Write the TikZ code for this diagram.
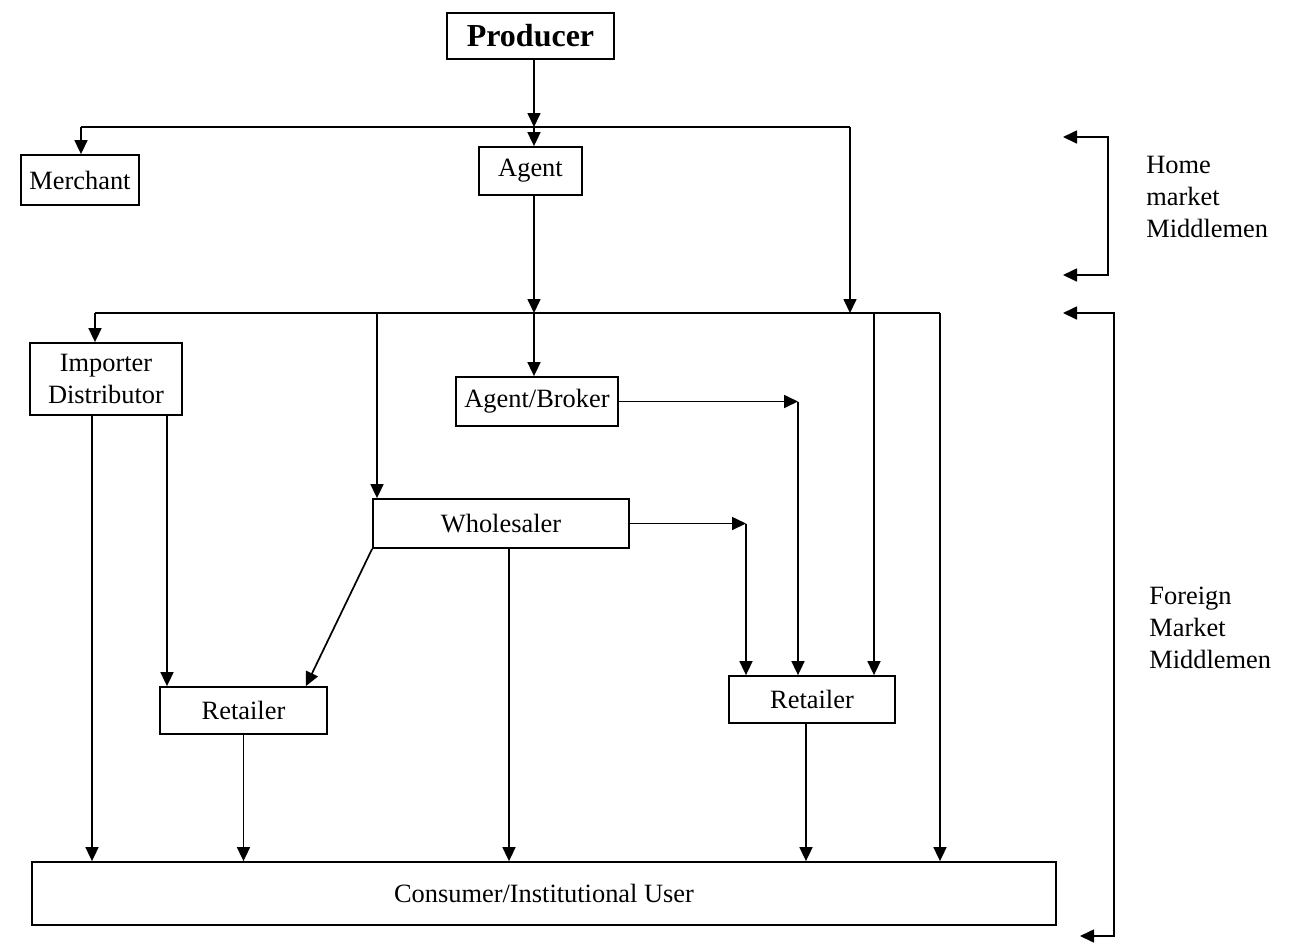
\documentclass[tikz,border=0pt]{standalone}
\usepackage{fontspec}
\setmainfont{Liberation Serif}
\usetikzlibrary{arrows.meta}
\begin{document}
\begin{tikzpicture}[x=0.5pt,y=-0.5pt,
  font=\fontsize{13.2pt}{16pt}\selectfont,
  box/.style={draw,line width=0.9pt,inner sep=0pt,align=center},
  arr/.style={line width=0.85pt,-{Triangle[length=7pt,width=6.5pt]}},
  ln/.style={line width=0.85pt},
  brk/.style={line width=0.85pt,{Triangle[length=7pt,width=6.5pt]}-{Triangle[length=7pt,width=6.5pt]}},
  lbl/.style={align=left,anchor=north west,inner sep=0pt}]
\useasboundingbox (0,0) rectangle (1303,944);
\fill[white] (0,0) rectangle (1303,944);

% boxes
\node[box,minimum width=83.5pt,minimum height=23pt,font=\fontsize{16pt}{18pt}\selectfont\bfseries] (prod) at (530.5,36) {Producer};
\node[box,minimum width=59pt,minimum height=25pt] (merch) at (80,180) {Merchant};
\node[box,minimum width=51.5pt,minimum height=24pt] (agent) at (530.5,171) {Agent};
\node[box,minimum width=76pt,minimum height=36pt] (imp) at (106,379) {Importer\\Distributor};
\node[box,minimum width=81pt,minimum height=24.5pt] (ab) at (537,401.5) {Agent/Broker};
\node[box,minimum width=128pt,minimum height=24.5pt] (whole) at (501,523.5) {Wholesaler};
\node[box,minimum width=83.5pt,minimum height=23.5pt] (ret1) at (243.5,710.5) {Retailer};
\node[box,minimum width=83pt,minimum height=23.5pt] (ret2) at (812,699.5) {Retailer};
\node[box,minimum width=512pt,minimum height=31.5pt] (cons) at (544,893.5) {Consumer/Institutional User};

% junction points
\coordinate (t1) at (81,127);
\coordinate (t2) at (534,127);
\coordinate (t3) at (850,127);
\coordinate (s1) at (95,313);
\coordinate (sw) at (377,313);
\coordinate (s2) at (534,313);
\coordinate (s3) at (850,313);
\coordinate (s4) at (874,313);
\coordinate (s5) at (940,313);
\coordinate (c1) at (798,401.5);
\coordinate (c2) at (746,523.5);

% home market level
\draw[arr] (prod.south -| t2) -- (t2);
\draw[ln] (t1) -- (t3);
\draw[arr] (t1) -- (t1 |- merch.north);
\draw[arr] (t2) -- (agent.north -| t2);
\draw[arr] (t3) -- (s3);
\draw[arr] (agent.south -| t2) -- (s2);

% foreign market level
\draw[ln] (s1) -- (s5);
\draw[arr] (s1) -- (s1 |- imp.north);
\draw[arr] (sw) -- (sw |- whole.north);
\draw[arr] (s2) -- (s2 |- ab.north);
\draw[arr] (s4) -- (s4 |- ret2.north);
\draw[arr] (s5) -- (s5 |- cons.north);

\draw[arr] (ab.east) -- (c1);
\draw[arr] (c1) -- (c1 |- ret2.north);
\draw[arr] (whole.east) -- (c2);
\draw[arr] (c2) -- (c2 |- ret2.north);

\draw[arr] ([xshift=-7pt]imp.south) -- ([xshift=-7pt]imp.south |- cons.north);
\draw[arr] ([xshift=30.5pt]imp.south) -- ([xshift=30.5pt]imp.south |- ret1.north);
\draw[arr] (whole.south west) -- ([xshift=-11pt]ret1.north east);
\draw[arr] ([xshift=4pt]whole.south) -- ([xshift=4pt]whole.south |- cons.north);
\draw[arr] (ret1.south) -- (ret1.south |- cons.north);
\draw[arr] ([xshift=-3pt]ret2.south) -- ([xshift=-3pt]ret2.south |- cons.north);

% brackets
\coordinate (h1) at (1063,137);
\coordinate (h2) at (1108,137);
\coordinate (h3) at (1108,275);
\coordinate (h4) at (1063,275);
\draw[brk] (h1) -- (h2) -- (h3) -- (h4);
\coordinate (f1) at (1063,313);
\coordinate (f2) at (1114,313);
\coordinate (f3) at (1114,936);
\coordinate (f4) at (1080,936);
\draw[brk] (f1) -- (f2) -- (f3) -- (f4);

\node[lbl] (home) at (1146,156) {Home\\market\\Middlemen};
\node[lbl] (foreign) at (1149,587) {Foreign\\Market\\Middlemen};
\end{tikzpicture}
\end{document}
